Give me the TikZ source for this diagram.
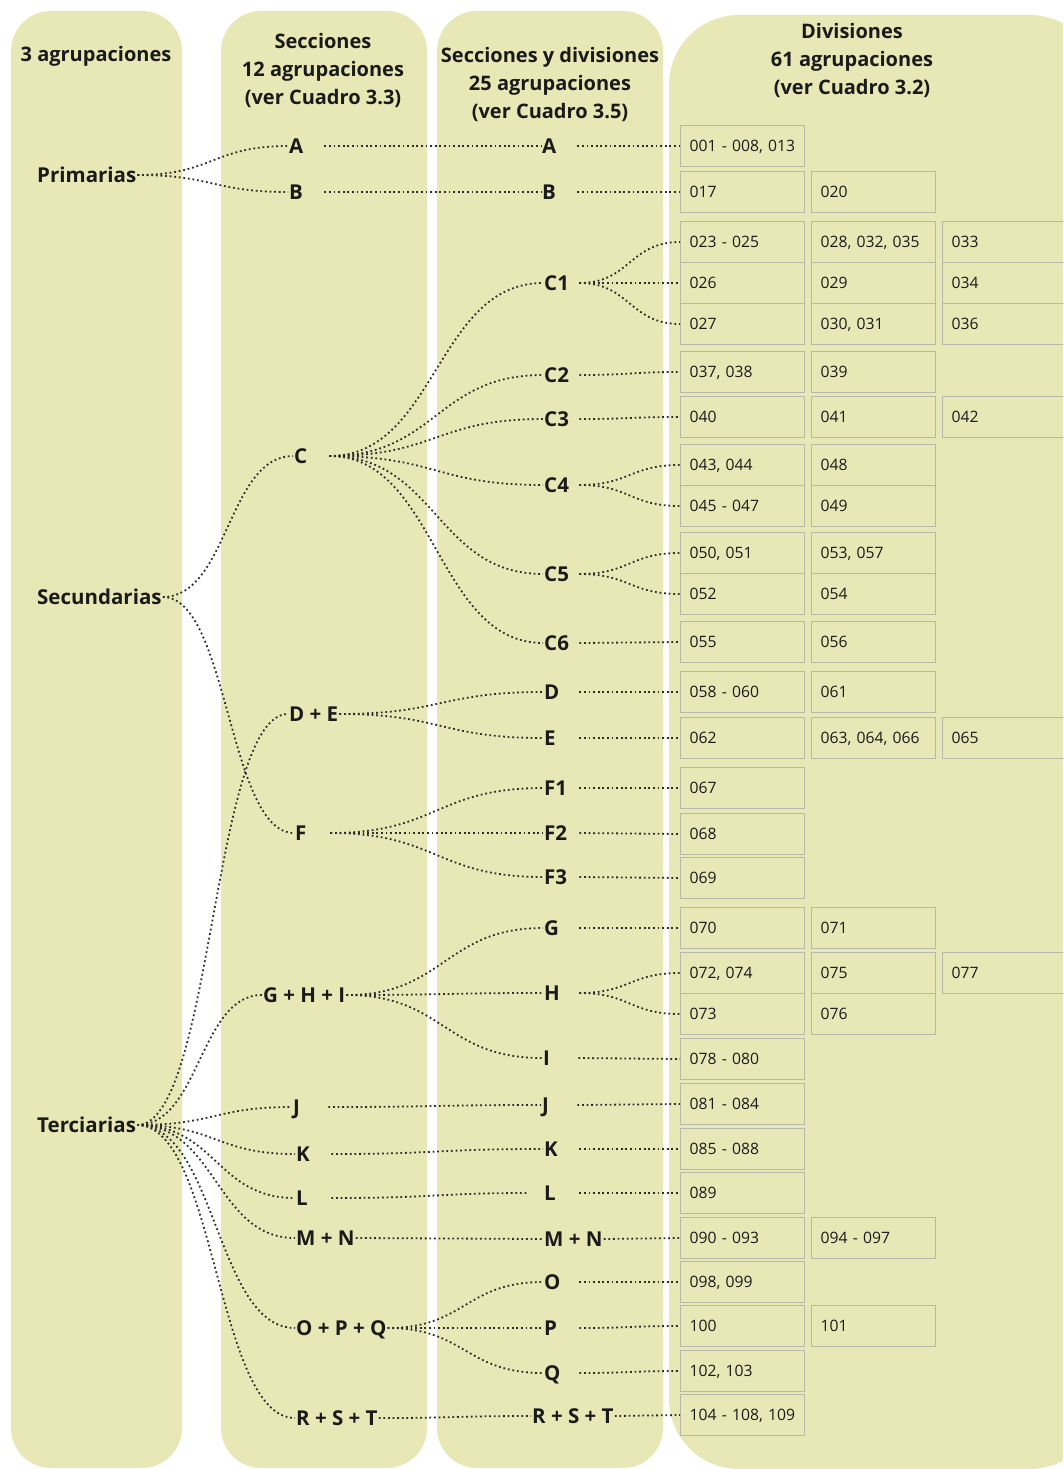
\documentclass[tikz,border=0pt]{standalone}
\usepackage{fontspec}
\setmainfont{Open Sans}
\usetikzlibrary{calc}
\definecolor{colfill}{RGB}{232,232,183}
\definecolor{boxline}{RGB}{184,184,170}
\definecolor{dotgray}{RGB}{45,45,45}
\definecolor{txtdark}{RGB}{26,26,26}
\tikzset{
  column/.style={fill=colfill,draw=none,rounded corners=40pt},
  head/.style={font=\fontsize{20}{28}\selectfont\bfseries,align=center,text=txtdark},
  lbl/.style={font=\fontsize{20.5}{24}\selectfont\bfseries,text=txtdark,inner xsep=1pt,inner ysep=2pt,
    text height=14.6pt,text depth=0pt,anchor=west},
  one/.style={lbl,text width=34pt,align=left},
  code/.style={draw=boxline,line width=1.3pt,minimum height=41pt,text width=106pt,inner xsep=9pt,
    align=left,anchor=west,font=\fontsize{15.7}{19}\selectfont,text=txtdark,text height=11.5pt,text depth=0pt},
  link/.style={dotgray,line width=1.8pt,dash pattern=on 1.8pt off 2.8pt},
  fan/.style={to path={let \p1=(\tikztostart), \p2=(\tikztotarget) in
    .. controls ({(\x1+\x2)/2},\y1) and ({(\x1+\x2)/2},\y2) .. (\tikztotarget) \tikztonodes}}
}
\begin{document}
\begin{tikzpicture}[x=1pt,y=-1pt]
  \useasboundingbox (0,0) rectangle (1063,1469);
  \clip (0,0) rectangle (1063,1469);
  % Columns
  \fill[column] (11,11) rectangle (182,1468);
  \fill[column] (221,11) rectangle (427,1468);
  \fill[column] (437,11) rectangle (663,1468);
  \fill[column,rounded corners=70pt] (669,15) rectangle (1100,1469);
  % Headings
  \node[head] (h1) at (96,56) {3 agrupaciones};
  \node[head] (h2) at (323,70) {Secciones\\12 agrupaciones\\(ver Cuadro 3.3)};
  \node[head] (h3) at (550,84) {Secciones y divisiones\\25 agrupaciones\\(ver Cuadro 3.5)};
  \node[head] (h4) at (852,60) {Divisiones\\61 agrupaciones\\(ver Cuadro 3.2)};
  % Groups
  \node[lbl] (prim) at (36,175) {Primarias};
  \node[lbl] (secu) at (36,597) {Secundarias};
  \node[lbl] (terc) at (36,1125) {Terciarias};
  % Sections
  \node[one] (sA) at (288,146) {A};
  \node[one] (sB) at (288,192) {B};
  \node[one] (sC) at (293,456) {C};
  \node[lbl] (sDE) at (288,714) {D + E};
  \node[one] (sF) at (294,833) {F};
  \node[lbl] (sGHI) at (262,995) {G + H + I};
  \node[one] (sJ) at (292,1107) {J};
  \node[one] (sK) at (295,1154) {K};
  \node[one] (sL) at (295,1198) {L};
  \node[lbl] (sMN) at (295,1238) {M + N};
  \node[lbl] (sOPQ) at (295,1328) {O + P + Q};
  \node[lbl] (sRST) at (295,1418) {R + S + T};
  % Sections and divisions
  \foreach \n/\x/\y/\t in {sdA/541/146/A, sdB/541/192/B, sdC1/543/283/C1, sdC2/543/375/C2,
      sdC3/543/419/C3, sdC4/543/485/C4, sdC5/543/574/C5, sdC6/543/643/C6, sdD/543/692/D,
      sdE/543/738/E, sdF1/543/788/F1, sdF2/543/833/F2, sdF3/543/877/F3, sdG/543/928/G,
      sdH/543/993/H, sdI/542/1058/I, sdJ/541/1105/J, sdK/543/1149/K, sdL/543/1193/L,
      sdO/543/1282/O, sdP/543/1328/P, sdQ/543/1373/Q}
    \node[one] (\n) at (\x,\y) {\t};
  \node[lbl] (sdMN) at (543,1239) {M + N};
  \node[lbl] (sdRST) at (531,1416) {R + S + T};
  % Divisions
  \foreach \n/\y/\t in {vA/146/{001 - 008, 013}, vB/192/017, vCa/242/{023 - 025}, vCb/283/026,
      vCc/324/027, vC2/372/{037, 038}, vC3/417/040, vC4a/465/{043, 044}, vC4b/506/{045 - 047},
      vC5a/553/{050, 051}, vC5b/594/052, vC6/642/055, vD/692/{058 - 060}, vE/738/062,
      vF1/788/067, vF2/834/068, vF3/878/069, vG/928/070, vHa/973/{072, 074}, vHb/1014/073,
      vI/1059/{078 - 080}, vJ/1104/{081 - 084}, vK/1149/{085 - 088}, vL/1193/089,
      vMN/1238/{090 - 093}, vO/1282/{098, 099}, vP/1326/100, vQ/1371/{102, 103},
      vRST/1415/{104 - 108, 109}}
    \node[code] (\n) at (680,\y) {\mbox{\t}};
  \foreach \y/\t [count=\i] in {192/020, 242/{028, 032, 035}, 283/029, 324/{030, 031}, 372/039,
      417/041, 465/048, 506/049, 553/{053, 057}, 594/054, 642/056, 692/061,
      738/{063, 064, 066}, 928/071, 973/075, 1014/076, 1238/{094 - 097}, 1326/101}
    \node[code] (vb\i) at (811,\y) {\mbox{\t}};
  \foreach \y/\t [count=\i] in {242/033, 283/034, 324/036, 417/042, 738/065, 973/077}
    \node[code] (vc\i) at (942,\y) {\mbox{\t}};
  % Links between columns
  \foreach \a/\b in {prim/sA, prim/sB, secu/sC, secu/sF, terc/sDE, terc/sGHI, terc/sJ,
      terc/sK, terc/sL, terc/sMN, terc/sOPQ, terc/sRST}
    \draw[link] (\a.east) to[fan] (\b.west);
  \foreach \a/\b in {sA/sdA, sB/sdB, sC/sdC1, sC/sdC2, sC/sdC3, sC/sdC4, sC/sdC5, sC/sdC6,
      sDE/sdD, sDE/sdE, sF/sdF1, sF/sdF2, sF/sdF3, sGHI/sdG, sGHI/sdH, sGHI/sdI,
      sJ/sdJ, sK/sdK, sMN/sdMN, sOPQ/sdO, sOPQ/sdP, sOPQ/sdQ, sRST/sdRST}
    \draw[link] (\a.east) to[fan] (\b.west);
  \draw[link,shorten >=15pt] (sL.east) to[fan] (sdL.west);
  \foreach \a/\b in {sdA/vA, sdB/vB, sdC1/vCa, sdC1/vCb, sdC1/vCc, sdC2/vC2, sdC3/vC3,
      sdC4/vC4a, sdC4/vC4b, sdC5/vC5a, sdC5/vC5b, sdC6/vC6, sdD/vD, sdE/vE, sdF1/vF1,
      sdF2/vF2, sdF3/vF3, sdG/vG, sdH/vHa, sdH/vHb, sdI/vI, sdJ/vJ, sdK/vK, sdL/vL,
      sdMN/vMN, sdO/vO, sdP/vP, sdQ/vQ, sdRST/vRST}
    \draw[link] (\a.east) to[fan] (\b.west);
\end{tikzpicture}
\end{document}
